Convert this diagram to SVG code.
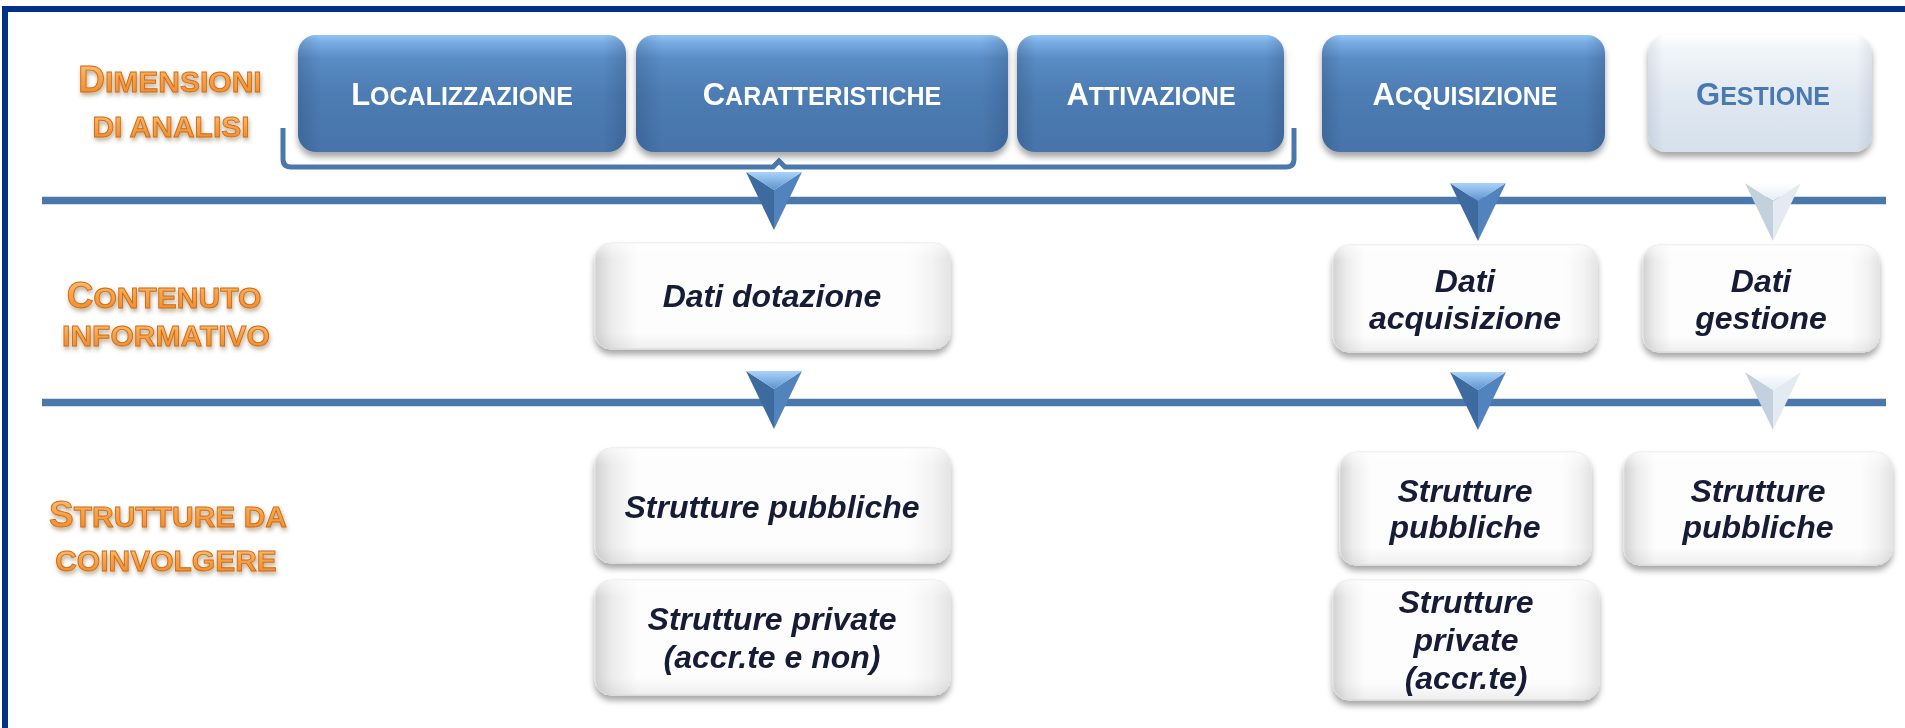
<svg xmlns="http://www.w3.org/2000/svg" xmlns:xlink="http://www.w3.org/1999/xlink" width="1905" height="728" viewBox="0 0 1905 728">
<style>
.lbl{font-family:"Liberation Sans",Arial,sans-serif;font-weight:bold;fill:url(#orange);stroke:#d06a16;stroke-width:0.9;filter:url(#tshadow);text-anchor:middle}
.big{font-size:37px}
.sm{font-size:30px}
.hd{font-family:"Liberation Sans",Arial,sans-serif;font-weight:bold;fill:#ffffff;text-anchor:middle}
.hd1{font-size:31px}
.hd2{font-size:25px}
.body{font-family:"Liberation Sans",Arial,sans-serif;font-weight:bold;font-style:italic;font-size:32px;fill:#161c36;text-anchor:middle}
.bluebox{fill:url(#bluev)}
.side{fill:url(#sideshade)}
.wbox{fill:url(#whiteh);stroke:#e4e4e4;stroke-width:1}
.wover{fill:url(#whitev)}
.conn{stroke:#4a78ad;fill:none}
</style>
<defs>
<linearGradient id="orange" x1="0" y1="0" x2="0" y2="1">
<stop offset="0" stop-color="#ffc987"/>
<stop offset="0.45" stop-color="#f8a449"/>
<stop offset="1" stop-color="#ec8526"/>
</linearGradient>
<linearGradient id="bluev" x1="0" y1="0" x2="0" y2="1">
<stop offset="0" stop-color="#95c6f6"/>
<stop offset="0.06" stop-color="#79ade4"/>
<stop offset="0.2" stop-color="#5a8cc5"/>
<stop offset="0.5" stop-color="#4d7cb3"/>
<stop offset="1" stop-color="#4674aa"/>
</linearGradient>
<linearGradient id="lightv" x1="0" y1="0" x2="0" y2="1">
<stop offset="0" stop-color="#ffffff"/>
<stop offset="0.12" stop-color="#f1f5f9"/>
<stop offset="0.5" stop-color="#e1e9f2"/>
<stop offset="1" stop-color="#d6e1ec"/>
</linearGradient>
<linearGradient id="sideshade" x1="0" y1="0" x2="1" y2="0">
<stop offset="0" stop-color="#0a1a3a" stop-opacity="0.16"/>
<stop offset="0.07" stop-color="#0a1a3a" stop-opacity="0"/>
<stop offset="0.93" stop-color="#0a1a3a" stop-opacity="0"/>
<stop offset="1" stop-color="#0a1a3a" stop-opacity="0.16"/>
</linearGradient>
<linearGradient id="whiteh" x1="0" y1="0" x2="1" y2="0">
<stop offset="0" stop-color="#d2d2d2"/>
<stop offset="0.05" stop-color="#ececec"/>
<stop offset="0.12" stop-color="#fdfdfd"/>
<stop offset="0.88" stop-color="#fdfdfd"/>
<stop offset="0.95" stop-color="#f3f3f3"/>
<stop offset="1" stop-color="#e4e4e4"/>
</linearGradient>
<linearGradient id="whitev" x1="0" y1="0" x2="0" y2="1">
<stop offset="0" stop-color="#ffffff" stop-opacity="0.6"/>
<stop offset="0.15" stop-color="#ffffff" stop-opacity="0"/>
<stop offset="0.85" stop-color="#000000" stop-opacity="0"/>
<stop offset="1" stop-color="#000000" stop-opacity="0.06"/>
</linearGradient>
<linearGradient id="tritop" x1="0" y1="0" x2="0" y2="1">
<stop offset="0" stop-color="#a9d3fa"/>
<stop offset="1" stop-color="#5f93cd"/>
</linearGradient>
<linearGradient id="tritopL" x1="0" y1="0" x2="0" y2="1">
<stop offset="0" stop-color="#ffffff"/>
<stop offset="1" stop-color="#e6edf4"/>
</linearGradient>
<filter id="shadow" x="-10%" y="-20%" width="120%" height="150%">
<feDropShadow dx="0" dy="5" stdDeviation="3" flood-color="#000000" flood-opacity="0.35"/>
</filter>
<filter id="tshadow" x="-10%" y="-30%" width="120%" height="170%">
<feDropShadow dx="1" dy="3" stdDeviation="2" flood-color="#5a3a10" flood-opacity="0.4"/>
</filter>
<g id="triB">
<polygon points="-28,0 0,18 0,58" fill="#3d6a9f"/>
<polygon points="28,0 0,18 0,58" fill="#5283bc"/>
<polygon points="-28,0 28,0 0,18" fill="url(#tritop)"/>
</g>
<g id="triL">
<polygon points="-28,0 0,18 0,58" fill="#c3d0de"/>
<polygon points="28,0 0,18 0,58" fill="#e3eaf2"/>
<polygon points="-28,0 28,0 0,18" fill="url(#tritopL)"/>
</g>
</defs>

<rect width="1905" height="728" fill="#ffffff"/>
<!-- frame -->
<path d="M5,728 V9 H1905" fill="none" stroke="#003087" stroke-width="6"/>

<!-- row labels -->
<g id="label-dimensioni">
<text class="lbl" x="170" y="92"><tspan class="big">D</tspan><tspan class="sm">IMENSIONI</tspan></text>
<text class="lbl sm" x="171" y="137">DI ANALISI</text>
</g>
<g id="label-contenuto">
<text class="lbl" x="164" y="308"><tspan class="big">C</tspan><tspan class="sm">ONTENUTO</tspan></text>
<text class="lbl sm" x="166" y="346">INFORMATIVO</text>
</g>
<g id="label-strutture">
<text class="lbl" x="168" y="527"><tspan class="big">S</tspan><tspan class="sm">TRUTTURE DA</tspan></text>
<text class="lbl sm" x="166" y="571">COINVOLGERE</text>
</g>

<!-- connectors -->
<g id="connectors">
<path class="conn" stroke-width="5" d="M283,128 V159 Q283,167 291,167 H773 L779,161 L785,167 H1286 Q1294,167 1294,159 V128"/>
<line class="conn" x1="42" y1="200.5" x2="1886" y2="200.5" stroke-width="7.5"/>
<line class="conn" x1="42" y1="402.5" x2="1886" y2="402.5" stroke-width="7.5"/>
<use href="#triB" x="774" y="172"/>
<use href="#triB" x="1478" y="183"/>
<use href="#triL" x="1773" y="183"/>
<use href="#triB" x="774" y="371"/>
<use href="#triB" x="1478" y="372"/>
<use href="#triL" x="1773" y="372"/>
</g>

<!-- dimension boxes -->
<g id="localizzazione" filter="url(#shadow)">
<rect class="bluebox" x="298" y="35" width="328" height="117" rx="18"/>
<rect class="side" x="298" y="35" width="328" height="117" rx="18"/>
<text class="hd" x="462" y="105"><tspan class="hd1">L</tspan><tspan class="hd2">OCALIZZAZIONE</tspan></text>
</g>
<g id="caratteristiche" filter="url(#shadow)">
<rect class="bluebox" x="636" y="35" width="372" height="117" rx="18"/>
<rect class="side" x="636" y="35" width="372" height="117" rx="18"/>
<text class="hd" x="822" y="105"><tspan class="hd1">C</tspan><tspan class="hd2">ARATTERISTICHE</tspan></text>
</g>
<g id="attivazione" filter="url(#shadow)">
<rect class="bluebox" x="1017" y="35" width="267" height="117" rx="18"/>
<rect class="side" x="1017" y="35" width="267" height="117" rx="18"/>
<text class="hd" x="1151" y="105"><tspan class="hd1">A</tspan><tspan class="hd2">TTIVAZIONE</tspan></text>
</g>
<g id="acquisizione" filter="url(#shadow)">
<rect class="bluebox" x="1322" y="35" width="283" height="117" rx="18"/>
<rect class="side" x="1322" y="35" width="283" height="117" rx="18"/>
<text class="hd" x="1465" y="105"><tspan class="hd1">A</tspan><tspan class="hd2">CQUISIZIONE</tspan></text>
</g>
<g id="gestione" filter="url(#shadow)">
<rect x="1648" y="35" width="224" height="117" rx="18" fill="url(#lightv)"/>
<rect class="side" x="1648" y="35" width="224" height="117" rx="18" opacity="0.5"/>
<text class="hd" x="1763" y="105" style="fill:#4a79b0"><tspan class="hd1">G</tspan><tspan class="hd2">ESTIONE</tspan></text>
</g>

<!-- content boxes -->
<g id="dati-dotazione" filter="url(#shadow)">
<rect class="wbox" x="595" y="243" width="355" height="106" rx="16"/>
<rect class="wover" x="595" y="243" width="355" height="106" rx="16"/>
<text class="body" x="772" y="307">Dati dotazione</text>
</g>
<g id="dati-acquisizione" filter="url(#shadow)">
<rect class="wbox" x="1333" y="245" width="264" height="107" rx="16"/>
<rect class="wover" x="1333" y="245" width="264" height="107" rx="16"/>
<text class="body" x="1465" y="292">Dati</text>
<text class="body" x="1465" y="329">acquisizione</text>
</g>
<g id="dati-gestione" filter="url(#shadow)">
<rect class="wbox" x="1643" y="245" width="236" height="107" rx="16"/>
<rect class="wover" x="1643" y="245" width="236" height="107" rx="16"/>
<text class="body" x="1761" y="292">Dati</text>
<text class="body" x="1761" y="329">gestione</text>
</g>

<!-- structure boxes -->
<g id="strutture-pubbliche-1" filter="url(#shadow)">
<rect class="wbox" x="595" y="448" width="355" height="115" rx="16"/>
<rect class="wover" x="595" y="448" width="355" height="115" rx="16"/>
<text class="body" x="772" y="518">Strutture pubbliche</text>
</g>
<g id="strutture-private-1" filter="url(#shadow)">
<rect class="wbox" x="595" y="580" width="355" height="115" rx="16"/>
<rect class="wover" x="595" y="580" width="355" height="115" rx="16"/>
<text class="body" x="772" y="630">Strutture private</text>
<text class="body" x="772" y="668">(accr.te e non)</text>
</g>
<g id="strutture-pubbliche-2" filter="url(#shadow)">
<rect class="wbox" x="1340" y="452" width="251" height="113" rx="16"/>
<rect class="wover" x="1340" y="452" width="251" height="113" rx="16"/>
<text class="body" x="1465" y="502">Strutture</text>
<text class="body" x="1465" y="538">pubbliche</text>
</g>
<g id="strutture-private-2" filter="url(#shadow)">
<rect class="wbox" x="1333" y="580" width="266" height="120" rx="16"/>
<rect class="wover" x="1333" y="580" width="266" height="120" rx="16"/>
<text class="body" x="1466" y="613">Strutture</text>
<text class="body" x="1466" y="651">private</text>
<text class="body" x="1466" y="689">(accr.te)</text>
</g>
<g id="strutture-pubbliche-3" filter="url(#shadow)">
<rect class="wbox" x="1624" y="452" width="268" height="113" rx="16"/>
<rect class="wover" x="1624" y="452" width="268" height="113" rx="16"/>
<text class="body" x="1758" y="502">Strutture</text>
<text class="body" x="1758" y="538">pubbliche</text>
</g>
</svg>
